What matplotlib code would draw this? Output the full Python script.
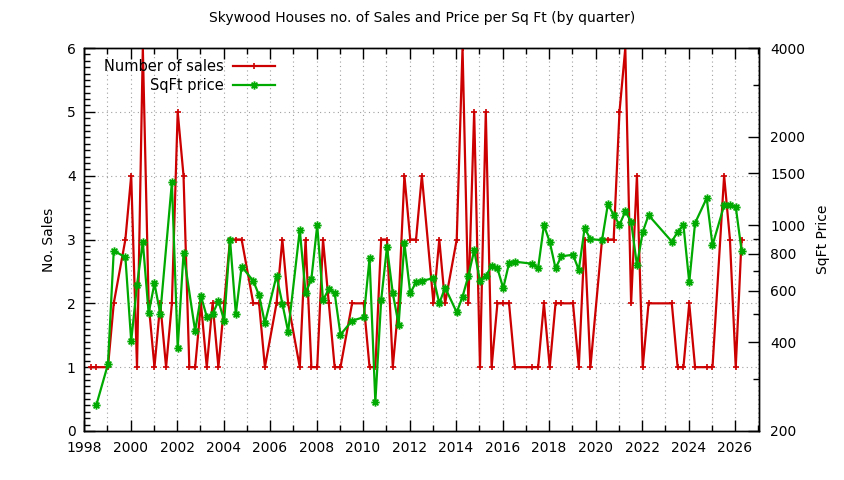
import numpy as np
import matplotlib
matplotlib.use("Agg")
import matplotlib.pyplot as plt
from matplotlib.ticker import MultipleLocator, FixedLocator, NullFormatter, FixedFormatter
from matplotlib.lines import Line2D
from matplotlib.path import Path

# quarterly data
quarters = [
    "1998Q2", "1998Q3", "1999Q1", "1999Q2", "1999Q4",
    "2000Q1", "2000Q2", "2000Q3", "2000Q4",
    "2001Q1", "2001Q2", "2001Q3", "2001Q4",
    "2002Q1", "2002Q2", "2002Q3", "2002Q4",
    "2003Q1", "2003Q2", "2003Q3", "2003Q4",
    "2004Q1", "2004Q2", "2004Q3", "2004Q4",
    "2005Q2", "2005Q3", "2005Q4",
    "2006Q2", "2006Q3", "2006Q4",
    "2007Q2", "2007Q3", "2007Q4",
    "2008Q1", "2008Q2", "2008Q3", "2008Q4",
    "2009Q1", "2009Q3",
    "2010Q1", "2010Q2", "2010Q3", "2010Q4",
    "2011Q1", "2011Q2", "2011Q3", "2011Q4",
    "2012Q1", "2012Q2", "2012Q3",
    "2013Q1", "2013Q2", "2013Q3",
    "2014Q1", "2014Q2", "2014Q3", "2014Q4",
    "2015Q1", "2015Q2", "2015Q3", "2015Q4",
    "2016Q1", "2016Q2", "2016Q3",
    "2017Q2", "2017Q3", "2017Q4",
    "2018Q1", "2018Q2", "2018Q3",
    "2019Q1", "2019Q2", "2019Q3", "2019Q4",
    "2020Q2", "2020Q3", "2020Q4",
    "2021Q1", "2021Q2", "2021Q3", "2021Q4",
    "2022Q1", "2022Q2",
    "2023Q2", "2023Q3", "2023Q4",
    "2024Q1", "2024Q2", "2024Q4",
    "2025Q1", "2025Q3", "2025Q4",
    "2026Q1", "2026Q2",
]
sales = [
    1, 1, 1, 2, 3,
    4, 1, 6, 2,
    1, 2, 1, 2,
    5, 4, 1, 1,
    2, 1, 2, 1,
    2, 3, 3, 3,
    2, 2, 1,
    2, 3, 2,
    1, 3, 1,
    1, 3, 2, 1,
    1, 2,
    2, 1, 1, 3,
    3, 1, 2, 4,
    3, 3, 4,
    2, 3, 2,
    3, 6, 2, 5,
    1, 5, 1, 2,
    2, 2, 1,
    1, 1, 2,
    1, 2, 2,
    2, 1, 3, 1,
    3, 3, 3,
    5, 6, 2, 4,
    1, 2,
    2, 1, 1,
    2, 1, 1,
    1, 4, 3,
    1, 3,
]
price = [
    np.nan, 245, 337, 820, 778,
    404, 627, 878, 502,
    635, 500, np.nan, 1400,
    382, 803, np.nan, 437,
    575, 489, 499, 553,
    474, 894, 500, 724,
    647, 578, 465,
    673, 542, 435,
    964, 588, 657,
    1000, 556, 608, 588,
    425, 474,
    487, 771, 251, 556,
    843, 588, 460, 870,
    588, 640, 647,
    661, 543, 614,
    506, 572, 673, 822,
    648, 671, 728, 714,
    611, 743, 752,
    740, 715, 1000,
    878, 714, 784,
    794, 705, 977, 897,
    890, 1178, 1085,
    1003, 1114, 1028, 732,
    948, 1082,
    880, 949, 1003,
    640, 1017, 1236,
    855, 1168, 1174,
    1155, 820,
]

sales_color = "#cc0000"
price_color = "#00aa00"

# gnuplot-like "*" point: a plus and a cross on top of each other
star = Path([(-1, 0), (1, 0), (0, -1), (0, 1),
             (-0.7, -0.7), (0.7, 0.7), (-0.7, 0.7), (0.7, -0.7)],
            [Path.MOVETO, Path.LINETO] * 4)

t = np.array([int(q[:4]) + (int(q[-1]) - 1) * 0.25 + 0.03 for q in quarters])
sales = np.array(sales, dtype=float)
price = np.array(price, dtype=float)
ok = ~np.isnan(price)

plt.rcParams["font.family"] = ["DejaVu Sans"]
plt.rcParams["font.size"] = 10

fig = plt.figure(figsize=(8.44, 4.80), dpi=100)
ax = fig.add_axes([84 / 844, 1 - 431 / 480, (759 - 84) / 844, (431 - 48) / 480])
ax2 = ax.twinx()

ax.plot(t, sales, color=sales_color, lw=1.6, marker="+", ms=4, mew=1.2, zorder=3)
ax2.plot(t[ok], price[ok], color=price_color, lw=1.6, marker=star, ms=6,
         mew=1.3, zorder=3)

ax.set_xlim(1998, 2027.03)
ax.set_ylim(0, 6)
ax2.set_yscale("log")
ax2.set_ylim(200, 4000)

# x axis: labels every 2 years, grid every year, ticks inside and mirrored
ax.xaxis.set_major_locator(MultipleLocator(2))
ax.xaxis.set_minor_locator(MultipleLocator(1))
ax.yaxis.set_major_locator(MultipleLocator(1))
ax.yaxis.set_minor_locator(MultipleLocator(0.1))
ax.tick_params(axis="x", which="both", direction="in", top=True, pad=7)
ax.tick_params(axis="y", which="both", direction="in", right=False, pad=6)
ax.tick_params(which="major", length=8, width=1)
ax.tick_params(which="minor", length=4, width=1)

grid_kw = dict(color="#a0a0a0", lw=0.8, linestyle=(0, (1, 3)))
ax.grid(True, axis="x", which="both", **grid_kw)
ax.grid(True, axis="y", which="major", **grid_kw)
ax.set_axisbelow(True)

y2_major = [200, 400, 600, 800, 1000, 1500, 2000, 4000]
y2_minor = [300, 500, 700, 900, 3000]
ax2.yaxis.set_major_locator(FixedLocator(y2_major))
ax2.yaxis.set_major_formatter(FixedFormatter([str(v) for v in y2_major]))
ax2.yaxis.set_minor_locator(FixedLocator(y2_minor))
ax2.yaxis.set_minor_formatter(NullFormatter())
ax2.tick_params(axis="y", which="both", direction="in", pad=8)
ax2.tick_params(which="major", length=8, width=1)
ax2.tick_params(which="minor", length=4, width=1)

for a in (ax, ax2):
    for s in a.spines.values():
        s.set_linewidth(1)
        s.set_color("black")

ax.set_ylabel("No. Sales", labelpad=8)
ax2.set_ylabel("SqFt Price", labelpad=8)
fig.text(0.5, 1 - 18 / 480, "Skywood Houses no. of Sales and Price per Sq Ft (by quarter)",
         ha="center", va="center", fontsize=10)

# gnuplot-style key: text right-aligned, sample to the right
key_rows = [("Number of sales", sales_color, "+", 4, 1.2),
            ("SqFt price", price_color, star, 6, 1.3)]
for i, (label, col, mk, ms, mew) in enumerate(key_rows):
    yk = 0.953 - i * 0.05
    ax.text(0.207, yk, label, transform=ax.transAxes, ha="right", va="center",
            fontsize=10.5, zorder=5)
    ax.add_line(Line2D([0.221, 0.283], [yk, yk], transform=ax.transAxes,
                       color=col, lw=1.6, zorder=5))
    ax.add_line(Line2D([0.252], [yk], transform=ax.transAxes, color=col,
                       marker=mk, ms=ms, mew=mew, zorder=5))

fig.savefig("out.png", dpi=100)
